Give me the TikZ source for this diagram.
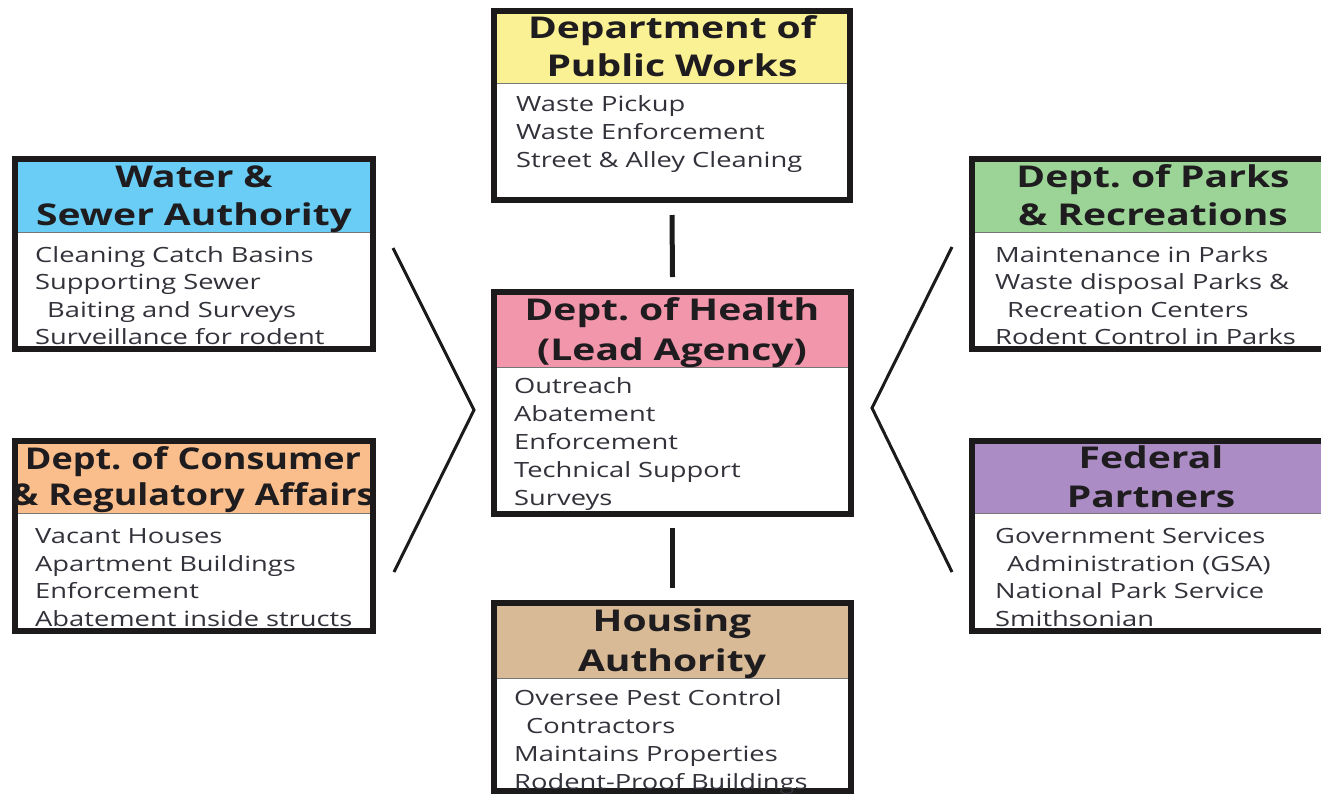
\documentclass[tikz,border=0pt]{standalone}
\usepackage{fontspec}
\setmainfont[FakeStretch=1.3]{Open Sans}
\frenchspacing
\definecolor{framecol}{RGB}{28,26,27}
\definecolor{txtdark}{RGB}{30,28,30}
\definecolor{txtbody}{RGB}{50,50,58}
\definecolor{cYel}{RGB}{250,240,148}
\definecolor{cBlue}{RGB}{105,205,245}
\definecolor{cGreen}{RGB}{155,212,150}
\definecolor{cPink}{RGB}{242,150,172}
\definecolor{cOrange}{RGB}{250,190,140}
\definecolor{cPurple}{RGB}{172,140,196}
\definecolor{cTan}{RGB}{216,186,150}
\tikzset{
  orgbox/.style={rectangle, draw=framecol, line width=6pt, fill=white,
    anchor=north west, inner sep=0pt, outer sep=0pt},
  hdr/.style 2 args={path picture={
      \fill[#1] (path picture bounding box.north west) rectangle
        ([yshift=-#2 pt]path picture bounding box.north east);
      \draw[line width=1pt, framecol!60]
        ([yshift=-#2 pt]path picture bounding box.north west) --
        ([yshift=-#2 pt]path picture bounding box.north east);}},
  hdrtext/.style={anchor=base, text width=440pt, align=center, inner sep=0pt,
    font=\bfseries\fontsize{30}{#1}\selectfont\frenchspacing, text=txtdark},
  bodytext/.style={anchor=base west, text width=340pt, align=left, inner sep=0pt,
    font=\fontsize{21}{#1}\selectfont\frenchspacing, text=txtbody},
  link/.style={draw=framecol, line width=5pt},
  chev/.style={draw=framecol, line width=3pt, line join=miter}
}
\newcommand{\ind}{\hspace*{12pt}}
\begin{document}
\begin{tikzpicture}[x=1pt, y=-1pt]
\useasboundingbox (0,0) rectangle (1321,796);
\clip (0,0) rectangle (1321,796);
\fill[white] (0,0) rectangle (1321,796);

% Department of Public Works
\node[orgbox, minimum width=356pt, minimum height=189pt, hdr={cYel}{72}] (dpw) at (494,11) {};
\node[hdrtext=38] (dpwH) at (672,38) {Department of\\Public Works};
\node[bodytext=27.8] (dpwB) at (516,111.5) {Waste Pickup\\Waste Enforcement\\Street \& Alley Cleaning};

% Water & Sewer Authority
\node[orgbox, minimum width=358pt, minimum height=190pt, hdr={cBlue}{73}] (wasa) at (15,159) {};
\node[hdrtext=38] (wasaH) at (194,187) {Water \&\\Sewer Authority};
\node[bodytext=27.5] (wasaB) at (35,262) {Cleaning Catch Basins\\Supporting Sewer\\\ind Baiting and Surveys\\Surveillance for rodent};

% Dept. of Parks & Recreations
\node[orgbox, minimum width=368pt, minimum height=190pt, hdr={cGreen}{73}] (parks) at (972,159) {};
\node[hdrtext=38] (parksH) at (1153,187) {Dept. of Parks\\\& Recreations};
\node[bodytext=27.5] (parksB) at (995,262) {Maintenance in Parks\\Waste disposal Parks \&\\\ind Recreation Centers\\Rodent Control in Parks};

% Dept. of Health
\node[orgbox, minimum width=357pt, minimum height=222pt, hdr={cPink}{75}] (doh) at (494,292) {};
\node[hdrtext=40] (dohH) at (672,320) {Dept. of Health\\(Lead Agency)};
\node[bodytext=28] (dohB) at (514,393.5) {Outreach\\Abatement\\Enforcement\\Technical Support\\Surveys};

% Dept. of Consumer & Regulatory Affairs (header set a little narrower)
\node[orgbox, minimum width=358pt, minimum height=190pt, hdr={cOrange}{72}] (dcra) at (15,441) {};
\node[hdrtext=36] (dcraH) at (193,469) {\addfontfeatures{FakeStretch=1.2}Dept. of Consumer\\\& Regulatory Affairs};
\node[bodytext=27.5] (dcraB) at (35,543.5) {Vacant Houses\\Apartment Buildings\\Enforcement\\Abatement inside structs};

% Federal Partners
\node[orgbox, minimum width=368pt, minimum height=190pt, hdr={cPurple}{72}] (fed) at (972,441) {};
\node[hdrtext=39] (fedH) at (1151,468) {Federal\\Partners};
\node[bodytext=27.5] (fedB) at (995,543.5) {Government Services\\\ind Administration (GSA)\\National Park Service\\Smithsonian};

% Housing Authority
\node[orgbox, minimum width=357pt, minimum height=188pt, hdr={cTan}{75}] (dcha) at (494,603) {};
\node[hdrtext=40] (dchaH) at (672,631) {Housing\\Authority};
\node[bodytext=28] (dchaB) at (514,705.5) {Oversee Pest Control\\\ind Contractors\\Maintains Properties\\Rodent-Proof Buildings};

% vertical links to the lead agency
\draw[link] ([yshift=-15pt]dpw.south) -- ([yshift=15pt]doh.north);
\draw[link] ([yshift=-14pt]doh.south) -- ([yshift=15pt]dcha.north);

% chevrons gathering the side agencies
\coordinate (lTop) at (393,248);
\coordinate (lTip) at (474,410);
\coordinate (lBot) at (394,572);
\coordinate (rTop) at (952,247);
\coordinate (rTip) at (872,408);
\coordinate (rBot) at (952,572);
\draw[chev] (lTop) -- (lTip) -- (lBot);
\draw[chev] (rTop) -- (rTip) -- (rBot);
\end{tikzpicture}
\end{document}
